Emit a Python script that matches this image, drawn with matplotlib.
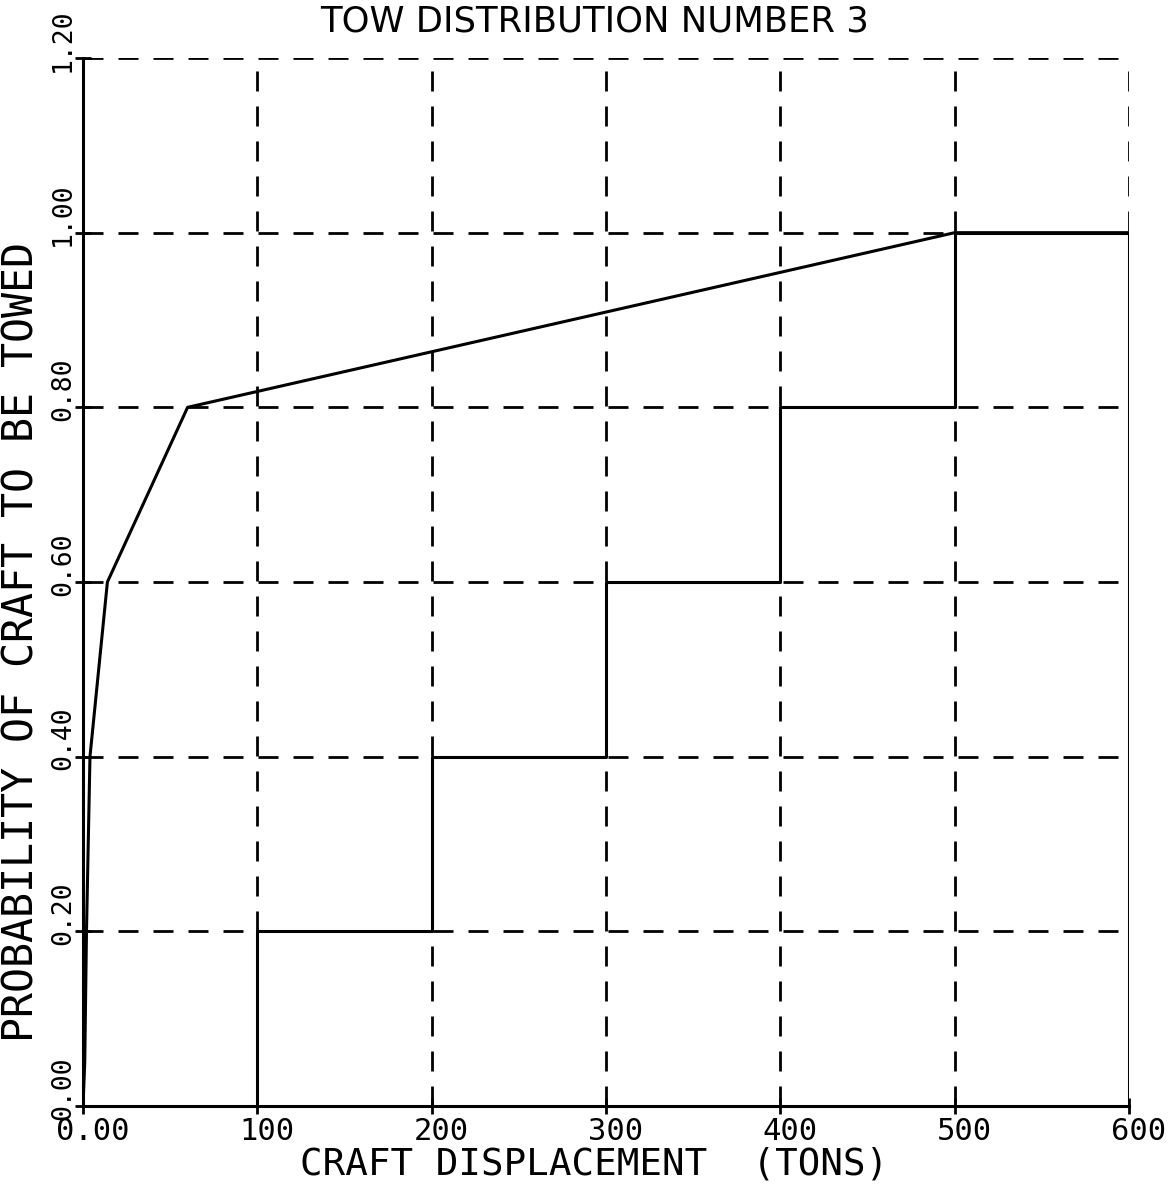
import matplotlib
matplotlib.use("Agg")
import matplotlib.pyplot as plt
import matplotlib.transforms as mtransforms
import numpy as np

# cumulative tow probability curve
curve_x = [0, 1, 2, 4, 14, 60, 500, 600]
curve_y = [0.0, 0.05, 0.2, 0.4, 0.6, 0.8, 1.0, 1.0]

# staircase outline (class edges and upper values)
step_x = [100, 200, 300, 400, 500, 600]
step_y = [0.2, 0.4, 0.6, 0.8, 1.0]

xticks = [0, 100, 200, 300, 400, 500, 600]
xticklabels = ['0.00', '100', '200', '300', '400', '500', '600']
yticks = [0.0, 0.2, 0.4, 0.6, 0.8, 1.0, 1.2]
yticklabels = ['0.00', '0.20', '0.40', '0.60', '0.80', '1.00', '1.20']

fig = plt.figure(figsize=(11.71, 11.86), dpi=100)
ax = fig.add_axes([83 / 1171, 1 - 1106 / 1186, (1129 - 83) / 1171, (1106 - 58) / 1186])

ax.set_xlim(0, 600)
ax.set_ylim(0, 1.2)

dash = (0, (7.2, 5.4))
for x in xticks[1:]:
    ax.axvline(x, color='black', lw=2, linestyle=dash, zorder=1)
for y in yticks[1:]:
    ax.axhline(y, color='black', lw=2, linestyle=dash, zorder=1)

# staircase
sx = [step_x[0]]
sy = [0.0]
for i, v in enumerate(step_y):
    sx += [step_x[i], step_x[i + 1]]
    sy += [v, v]
sx.append(step_x[-1])
sy.append(0.0)
ax.plot(sx, sy, color='black', lw=2.2, zorder=3)

ax.plot(curve_x, curve_y, color='black', lw=2.2, zorder=3)

for s in ['top', 'right']:
    ax.spines[s].set_visible(False)
for s in ['left', 'bottom']:
    ax.spines[s].set_linewidth(2.2)

mono = 'DejaVu Sans Mono'
ax.set_xticks(xticks)
ax.set_xticklabels(xticklabels, fontsize=22, family=mono)
ax.set_yticks(yticks)
ax.set_yticklabels(yticklabels, fontsize=19, family=mono, rotation=90, va='center')
ax.tick_params(axis='both', direction='inout', length=12, width=2)
ax.tick_params(axis='x', pad=2)
ax.tick_params(axis='y', pad=2)

shift_up = mtransforms.ScaledTranslation(0.04, 18 / 100, fig.dpi_scale_trans)
for lab in ax.get_yticklabels():
    lab.set_transform(lab.get_transform() + shift_up)
shift_right = mtransforms.ScaledTranslation(10 / 100, 0, fig.dpi_scale_trans)
for lab in ax.get_xticklabels():
    lab.set_transform(lab.get_transform() + shift_right)

fig.text(595 / 1171, 1 - 22 / 1186, 'TOW DISTRIBUTION NUMBER 3', fontsize=25.5,
         ha='center', va='center', family='DejaVu Sans')
fig.text(594 / 1171, 1 - 1165 / 1186, 'CRAFT DISPLACEMENT  (TONS)', fontsize=27,
         ha='center', va='center', family=mono)
fig.text(22 / 1171, 1 - 642 / 1186, 'PROBABILITY OF CRAFT TO BE TOWED', fontsize=30,
         ha='center', va='center', rotation=90, family=mono)

fig.savefig('out.png', dpi=100)
